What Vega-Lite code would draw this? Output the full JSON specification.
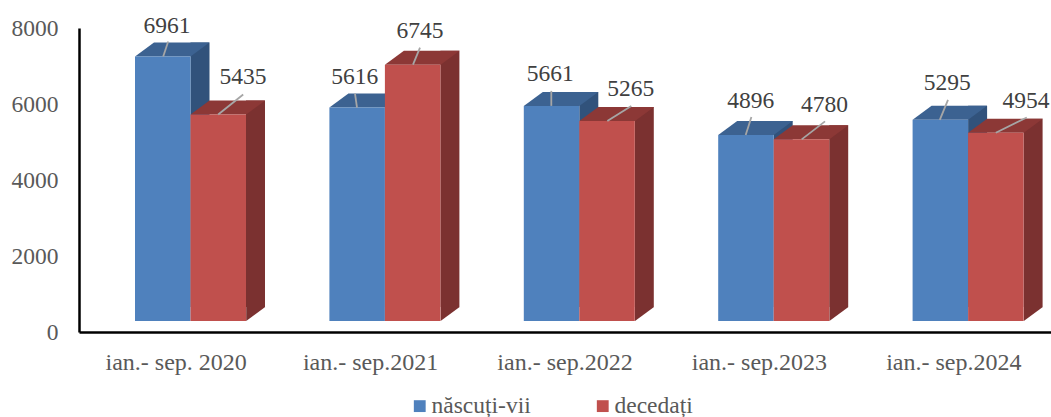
{
"$schema":"https://vega.github.io/schema/vega-lite/v6.json",
"width":972,"height":304,
"autosize":{"type":"none"},
"padding":{"left":79,"top":28,"right":0,"bottom":85},
"background":"white",
"config":{"view":{"stroke":null},"font":"Liberation Serif"},
"data":{"values":[
{"period":"ian.- sep. 2020","series":"născuți-vii","value":6961},
{"period":"ian.- sep. 2020","series":"decedați","value":5435},
{"period":"ian.- sep.2021","series":"născuți-vii","value":5616},
{"period":"ian.- sep.2021","series":"decedați","value":6745},
{"period":"ian.- sep.2022","series":"născuți-vii","value":5661},
{"period":"ian.- sep.2022","series":"decedați","value":5265},
{"period":"ian.- sep.2023","series":"născuți-vii","value":4896},
{"period":"ian.- sep.2023","series":"decedați","value":4780},
{"period":"ian.- sep.2024","series":"născuți-vii","value":5295},
{"period":"ian.- sep.2024","series":"decedați","value":4954}
]},
"encoding":{
"x":{"field":"period","type":"nominal","title":null,"scale":{"type":"band","domain":["ian.- sep. 2020","ian.- sep.2021","ian.- sep.2022","ian.- sep.2023","ian.- sep.2024"],"paddingInner":0,"paddingOuter":0},
"axis":{"labelAngle":0,"labelFont":"Liberation Serif","labelFontSize":24,"labelColor":"#595959","labelPadding":18,"ticks":false,"domainColor":"#000000","domainWidth":2.5,"labelLimit":300}},
"y":{"field":"value","type":"quantitative","stack":null,"title":null,"scale":{"domain":[0,8000],"nice":false},
"axis":{"values":[0,2000,4000,6000,8000],"format":"d","grid":false,"ticks":false,"labelFont":"Liberation Serif","labelFontSize":23.5,"labelColor":"#595959","labelPadding":21,"domainColor":"#000000","domainWidth":2.5}}
},
"layer":[
{"transform":[{"filter":"datum.series=='născuți-vii'"}],"layer":[
{"mark":{"type":"bar","width":19,"xOffset":23.8,"yOffset":-25,"y2Offset":-25,"fill":"#31527b"},"encoding":{"y2":{"datum":0}}},
{"mark":{"type":"point","shape":"M-41.2,-11 L-22.2,-25 L33.3,-25 L14.3,-11 Z","size":4,"filled":true,"fill":"#3c6291","stroke":null,"opacity":1}},
{"mark":{"type":"bar","width":55.5,"xOffset":-13.45,"yOffset":-11,"y2Offset":-11},"encoding":{"y2":{"datum":0},"color":{"field":"series","type":"nominal","title":null,"scale":{"domain":["născuți-vii","decedați"],"range":["#4f81bd","#c0504d"]},
"legend":{"orient":"none","legendX":329,"legendY":366,"direction":"horizontal","symbolType":"square","symbolSize":140,"labelFont":"Liberation Serif","labelFontSize":23.5,"labelColor":"#595959","columnPadding":60,"labelOffset":0,"symbolOpacity":1,"symbolStrokeWidth":0}}}}
]},
{"transform":[{"filter":"datum.series=='decedați'"}],"layer":[
{"mark":{"type":"bar","width":19,"xOffset":79.3,"yOffset":-25,"y2Offset":-25,"fill":"#7b3130"},"encoding":{"y2":{"datum":0}}},
{"mark":{"type":"point","shape":"M70,-11 L89,-25 L70,-25 Z","size":4,"filled":true,"fill":"#7b3130","stroke":null,"opacity":1},"encoding":{"y":{"datum":0}}},
{"mark":{"type":"point","shape":"M14.3,-11 L33.3,-25 L89,-25 L70,-11 Z","size":4,"filled":true,"fill":"#8c3836","stroke":null,"opacity":1}},
{"mark":{"type":"bar","width":55.5,"xOffset":42.05,"yOffset":-11,"y2Offset":-11},"encoding":{"y2":{"datum":0},"color":{"field":"series","type":"nominal","title":null}}}
]},
{"transform":[{"filter":"datum.value==6961"}],"layer":[
{"mark":{"type":"point","shape":"M-13,-11 L-8,-26","size":4,"filled":false,"stroke":"#a6a6a6","strokeWidth":1.8,"opacity":1}},
{"mark":{"type":"text","font":"Liberation Serif","dx":-9.2,"dy":-41.5,"fontSize":23.5,"color":"#404040","baseline":"middle","align":"center"},"encoding":{"text":{"field":"value","type":"quantitative","format":"d"}}}]},
{"transform":[{"filter":"datum.value==5435"}],"layer":[
{"mark":{"type":"point","shape":"M42,-11 L67,-31","size":4,"filled":false,"stroke":"#a6a6a6","strokeWidth":1.8,"opacity":1}},
{"mark":{"type":"text","font":"Liberation Serif","dx":66.8,"dy":-48,"fontSize":23.5,"color":"#404040","baseline":"middle","align":"center"},"encoding":{"text":{"field":"value","type":"quantitative","format":"d"}}}]},
{"transform":[{"filter":"datum.value==5616"}],"layer":[
{"mark":{"type":"point","shape":"M-13.6,-11 L-15.6,-25","size":4,"filled":false,"stroke":"#a6a6a6","strokeWidth":1.8,"opacity":1}},
{"mark":{"type":"text","font":"Liberation Serif","dx":-15.9,"dy":-42,"fontSize":23.5,"color":"#404040","baseline":"middle","align":"center"},"encoding":{"text":{"field":"value","type":"quantitative","format":"d"}}}]},
{"transform":[{"filter":"datum.value==6745"}],"layer":[
{"mark":{"type":"point","shape":"M42.4,-11 L49.4,-28","size":4,"filled":false,"stroke":"#a6a6a6","strokeWidth":1.8,"opacity":1}},
{"mark":{"type":"text","font":"Liberation Serif","dx":49.4,"dy":-45,"fontSize":23.5,"color":"#404040","baseline":"middle","align":"center"},"encoding":{"text":{"field":"value","type":"quantitative","format":"d"}}}]},
{"transform":[{"filter":"datum.value==5661"}],"layer":[
{"mark":{"type":"point","shape":"M-13.7,-11 L-13.7,-26","size":4,"filled":false,"stroke":"#a6a6a6","strokeWidth":1.8,"opacity":1}},
{"mark":{"type":"text","font":"Liberation Serif","dx":-14.7,"dy":-43,"fontSize":23.5,"color":"#404040","baseline":"middle","align":"center"},"encoding":{"text":{"field":"value","type":"quantitative","format":"d"}}}]},
{"transform":[{"filter":"datum.value==5265"}],"layer":[
{"mark":{"type":"point","shape":"M42.3,-11 L66.3,-26","size":4,"filled":false,"stroke":"#a6a6a6","strokeWidth":1.8,"opacity":1}},
{"mark":{"type":"text","font":"Liberation Serif","dx":65.8,"dy":-42.6,"fontSize":23.5,"color":"#404040","baseline":"middle","align":"center"},"encoding":{"text":{"field":"value","type":"quantitative","format":"d"}}}]},
{"transform":[{"filter":"datum.value==4896"}],"layer":[
{"mark":{"type":"point","shape":"M-13.7,-11 L-8,-29","size":4,"filled":false,"stroke":"#a6a6a6","strokeWidth":1.8,"opacity":1}},
{"mark":{"type":"text","font":"Liberation Serif","dx":-8.6,"dy":-45,"fontSize":23.5,"color":"#404040","baseline":"middle","align":"center"},"encoding":{"text":{"field":"value","type":"quantitative","format":"d"}}}]},
{"transform":[{"filter":"datum.value==4780"}],"layer":[
{"mark":{"type":"point","shape":"M42.3,-11 L65.6,-29","size":4,"filled":false,"stroke":"#a6a6a6","strokeWidth":1.8,"opacity":1}},
{"mark":{"type":"text","font":"Liberation Serif","dx":65.1,"dy":-45,"fontSize":23.5,"color":"#404040","baseline":"middle","align":"center"},"encoding":{"text":{"field":"value","type":"quantitative","format":"d"}}}]},
{"transform":[{"filter":"datum.value==5295"}],"layer":[
{"mark":{"type":"point","shape":"M-14,-11 L-5.8,-31","size":4,"filled":false,"stroke":"#a6a6a6","strokeWidth":1.8,"opacity":1}},
{"mark":{"type":"text","font":"Liberation Serif","dx":-6.5,"dy":-47.5,"fontSize":23.5,"color":"#404040","baseline":"middle","align":"center"},"encoding":{"text":{"field":"value","type":"quantitative","format":"d"}}}]},
{"transform":[{"filter":"datum.value==4954"}],"layer":[
{"mark":{"type":"point","shape":"M42,-11 L73,-26.3","size":4,"filled":false,"stroke":"#a6a6a6","strokeWidth":1.8,"opacity":1}},
{"mark":{"type":"text","font":"Liberation Serif","dx":72.2,"dy":-43,"fontSize":23.5,"color":"#404040","baseline":"middle","align":"center"},"encoding":{"text":{"field":"value","type":"quantitative","format":"d"}}}]}
]
}
